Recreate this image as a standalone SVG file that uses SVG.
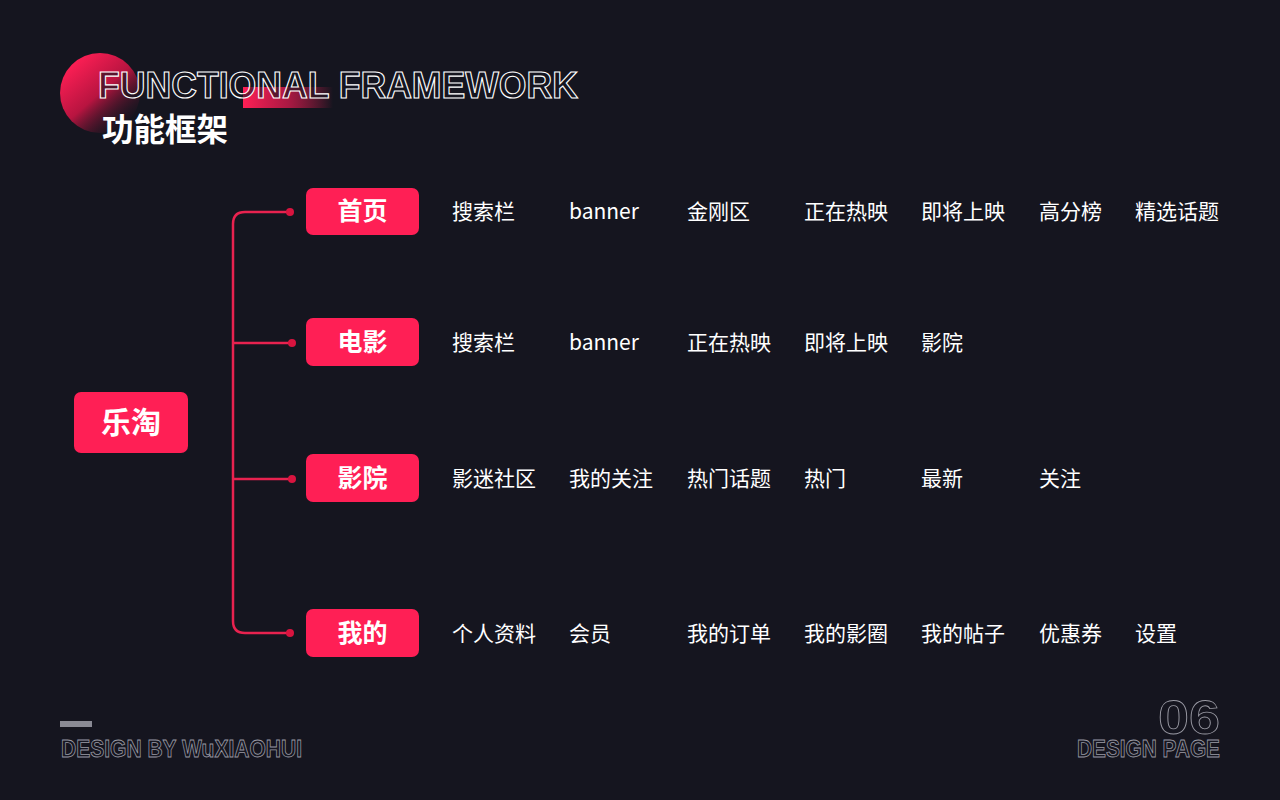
<svg xmlns="http://www.w3.org/2000/svg" width="1280" height="800" viewBox="0 0 1280 800">
<defs>
<linearGradient id="gCircle" x1="0.15" y1="0.1" x2="0.85" y2="0.9">
<stop offset="0" stop-color="#ff1f55"/>
<stop offset="0.5" stop-color="#b81440"/>
<stop offset="1" stop-color="#15151f" stop-opacity="0.2"/>
</linearGradient>
<linearGradient id="gBar" x1="0" y1="0" x2="1" y2="0">
<stop offset="0" stop-color="#ff1f55"/>
<stop offset="0.5" stop-color="#d01a4c" stop-opacity="0.8"/>
<stop offset="1" stop-color="#ff1f55" stop-opacity="0"/>
</linearGradient>
<style>
.node rect{fill:#ff1f55}
.ntext{font-family:"Noto Sans CJK SC","Noto Sans",sans-serif;font-weight:700;fill:#ffffff;text-anchor:middle}
.item{font-family:"Noto Sans CJK SC","Noto Sans",sans-serif;font-size:21px;font-weight:400;fill:#ffffff}
.conn{fill:none;stroke:#e8224f;stroke-width:2.5}
.dot{fill:#d9143f}
.outline{font-family:"Liberation Sans",Arial,sans-serif;font-weight:700}
.foot{fill:#15151f;stroke:#9a9aa4;stroke-width:0.8}
</style>
</defs>
<rect width="1280" height="800" fill="#15151f"/>

<g id="header">
<circle cx="100" cy="93" r="40" fill="url(#gCircle)"/>
<rect x="243" y="87" width="90" height="21" fill="url(#gBar)"/>
<text class="outline" x="98" y="98" font-size="36" textLength="480" lengthAdjust="spacingAndGlyphs" fill="#15151f" fill-opacity="0.6" stroke="#ffffff" stroke-width="1.1">FUNCTIONAL FRAMEWORK</text>
<text x="102" y="141" font-family="'Noto Sans CJK SC',sans-serif" font-weight="700" font-size="31.5" fill="#ffffff">功能框架</text>
</g>

<g id="connectors">
<path class="conn" d="M290 212 H245 Q233 212 233 224 V621 Q233 633 245 633 H290"/>
<path class="conn" d="M233 343 H290"/>
<path class="conn" d="M233 479 H290"/>
<circle class="dot" cx="290" cy="212" r="4"/>
<circle class="dot" cx="292" cy="343" r="4"/>
<circle class="dot" cx="292" cy="479" r="4"/>
<circle class="dot" cx="290" cy="633" r="4"/>
</g>

<g id="root" class="node">
<rect x="74" y="392" width="114" height="61" rx="7"/>
<text class="ntext" x="131" y="433" font-size="30">乐淘</text>
</g>

<g id="n-home" class="node">
<rect x="306" y="188" width="113" height="47" rx="7"/>
<text class="ntext" x="362.5" y="220" font-size="25">首页</text>
</g>
<g id="n-movie" class="node">
<rect x="306" y="318" width="113" height="48" rx="7"/>
<text class="ntext" x="362.5" y="351" font-size="25">电影</text>
</g>
<g id="n-cinema" class="node">
<rect x="306" y="454" width="113" height="48" rx="7"/>
<text class="ntext" x="362.5" y="487" font-size="25">影院</text>
</g>
<g id="n-mine" class="node">
<rect x="306" y="609" width="113" height="48" rx="7"/>
<text class="ntext" x="362.5" y="642" font-size="25">我的</text>
</g>

<g id="items-home">
<text class="item" x="452" y="219">搜索栏</text>
<text class="item" x="569" y="219">banner</text>
<text class="item" x="687" y="219">金刚区</text>
<text class="item" x="804" y="219">正在热映</text>
<text class="item" x="921" y="219">即将上映</text>
<text class="item" x="1039" y="219">高分榜</text>
<text class="item" x="1135" y="219">精选话题</text>
</g>
<g id="items-movie">
<text class="item" x="452" y="350">搜索栏</text>
<text class="item" x="569" y="350">banner</text>
<text class="item" x="687" y="350">正在热映</text>
<text class="item" x="804" y="350">即将上映</text>
<text class="item" x="921" y="350">影院</text>
</g>
<g id="items-cinema">
<text class="item" x="452" y="486">影迷社区</text>
<text class="item" x="569" y="486">我的关注</text>
<text class="item" x="687" y="486">热门话题</text>
<text class="item" x="804" y="486">热门</text>
<text class="item" x="921" y="486">最新</text>
<text class="item" x="1039" y="486">关注</text>
</g>
<g id="items-mine">
<text class="item" x="452" y="641">个人资料</text>
<text class="item" x="569" y="641">会员</text>
<text class="item" x="687" y="641">我的订单</text>
<text class="item" x="804" y="641">我的影圈</text>
<text class="item" x="921" y="641">我的帖子</text>
<text class="item" x="1039" y="641">优惠券</text>
<text class="item" x="1135" y="641">设置</text>
</g>

<g id="footer">
<rect x="60" y="721" width="32" height="6" fill="#8a8a94"/>
<text class="outline foot" x="61" y="757" font-size="23" textLength="241" lengthAdjust="spacingAndGlyphs">DESIGN BY WuXIAOHUI</text>
<text class="outline foot" x="1220" y="734" font-size="48" text-anchor="end" textLength="62" lengthAdjust="spacingAndGlyphs" stroke-width="1.1">06</text>
<text class="outline foot" x="1220" y="757" font-size="23" text-anchor="end" textLength="143" lengthAdjust="spacingAndGlyphs">DESIGN PAGE</text>
</g>
</svg>
